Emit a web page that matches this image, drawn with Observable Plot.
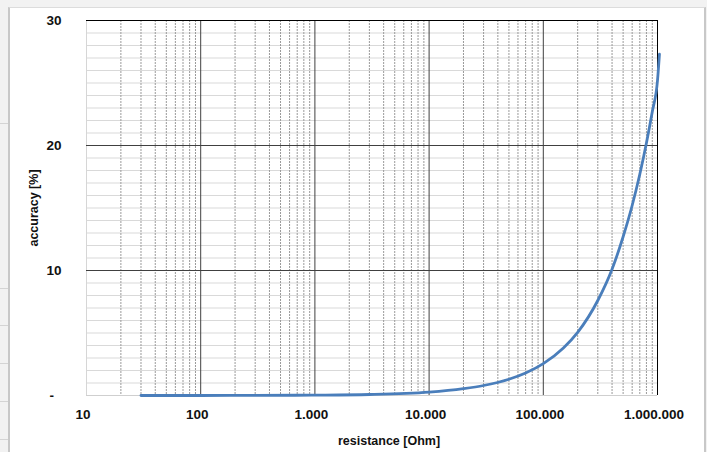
<!DOCTYPE html>
<html><head><meta charset="utf-8">
<script src="https://cdn.jsdelivr.net/npm/d3@7"></script>
<script src="https://cdn.jsdelivr.net/npm/@observablehq/plot@0.6"></script>
<style>
body{margin:0;background:#f2f2f2;width:707px;height:452px;overflow:hidden;position:relative;font-family:"Liberation Sans",Arial,sans-serif}
#frame{position:absolute;left:8px;top:7px;width:698px;height:460px;background:#fff;border-left:2px solid #c8c8c8;border-right:2px solid #c8c8c8;border-top:1px solid #dcdcdc;box-sizing:border-box}
.cell{position:absolute;left:0;width:8px;height:1px;background:#d4d4d4}
#chart{position:absolute;left:0;top:0}
</style></head><body>
<div id="frame"></div>
<div class="cell" style="top:123px"></div>
<div class="cell" style="top:288px"></div>
<div class="cell" style="top:325px"></div>
<div class="cell" style="top:363px"></div>
<div class="cell" style="top:401px"></div>
<div class="cell" style="top:439px"></div>
<div id="chart"></div>
<script>
// Series
const resistance = [30, 100, 300, 1000, 3000, 10000, 20000, 30000, 50000, 70000, 100000, 150000, 200000, 300000, 400000, 500000, 600000, 700000, 800000, 900000, 1000000, 1040000];
const accuracy   = [0.00, 0.00, 0.01, 0.03, 0.08, 0.27, 0.55, 0.80, 1.30, 1.80, 2.55, 3.80, 5.05, 7.60, 10.1, 12.7, 15.2, 17.7, 20.2, 22.7, 25.2, 27.3];

// Tick values
const xTicks = [10, 100, 1000, 10000, 100000, 1000000];
const yTicks = [0, 10, 20, 30];
const xMinor = [2, 3, 4, 5, 6, 7, 8, 9];
const yMinor = [1,2,3,4,5,6,7,8,9,11,12,13,14,15,16,17,18,19,21,22,23,24,25,26,27,28,29];

const data = resistance.map((r, i) => ({r, a: accuracy[i]}));
const minorX = xTicks.slice(0, -1).flatMap(d => xMinor.map(k => k * d));
const fmt = d3.formatLocale({decimal: ",", thousands: ".", grouping: [3], currency: ["", ""]}).format(",");

const chart = Plot.plot({
  width: 707,
  height: 452,
  marginLeft: 86,
  marginRight: 50,
  marginTop: 20,
  marginBottom: 57,
  style: {background: "transparent", fontFamily: "'Liberation Sans', Arial, sans-serif", color: "#111"},
  x: {type: "log", domain: [10, 1000000]},
  y: {domain: [0, 30]},
  marks: [
    Plot.ruleY(yMinor, {stroke: "#d9d9d9", strokeOpacity: 1}),
    Plot.ruleX(minorX, {stroke: "#9a9a9a", strokeDasharray: "2,1", strokeOpacity: 1}),
    Plot.ruleY([0], {stroke: "#cfcfcf", strokeOpacity: 1}),
    Plot.ruleX([10], {stroke: "#d6d6d6", strokeOpacity: 1}),
    Plot.ruleY([10, 20], {stroke: "#404040", strokeOpacity: 1}),
    Plot.ruleX([100, 1000, 10000, 100000], {stroke: "#404040", strokeOpacity: 1}),
    Plot.ruleY([30], {stroke: "#000", strokeOpacity: 1}),
    Plot.ruleX([1000000], {stroke: "#000", strokeOpacity: 1}),
    Plot.line(data, {x: "r", y: "a", stroke: "#4a7ebb", strokeWidth: 2.8, curve: "monotone-x"}),
    Plot.axisX(xTicks, {tickSize: 0, tickPadding: 14, tickFormat: fmt, fontSize: 13.5, fontWeight: "bold", dx: -3.5, label: null}),
    Plot.axisY(yTicks, {tickSize: 0, tickPadding: 25, tickFormat: d => d === 0 ? "-\u00a0\u00a0" : String(d), fontSize: 13.5, fontWeight: "bold", label: null}),
    Plot.text(["resistance [Ohm]"], {frameAnchor: "bottom", textAnchor: "middle", lineAnchor: "middle", dy: 45, dx: 17, fontSize: 12.5, fontWeight: "bold"}),
    Plot.text(["accuracy [%]"], {frameAnchor: "left", textAnchor: "middle", lineAnchor: "middle", dx: -53, rotate: -90, fontSize: 12.5, fontWeight: "bold"})
  ]
});
document.getElementById("chart").appendChild(chart);
</script>
</body></html>
